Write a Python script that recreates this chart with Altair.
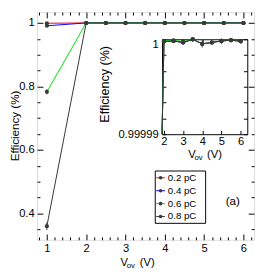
import altair as alt
import pandas as pd

# ---------------- data ----------------
vov = [1, 2, 2.5, 3, 3.5, 4, 4.5, 5, 5.5, 6]
series = ["0.2 pC", "0.4 pC", "0.6 pC", "0.8 pC"]
colors = ["#ff0000", "#0000ff", "#00e000", "#333333"]

eff_02 = [0.999, 0.99999977, 0.99999983, 0.99999966, 0.99999999, 0.99999952, 0.99999966, 0.99999983, 0.99999990, 0.99999980]
eff_04 = [0.991, 0.99999977, 0.99999983, 0.99999966, 0.99999999, 0.99999952, 0.99999966, 0.99999983, 0.99999990, 0.99999980]
eff_06 = [0.783, 0.99999985, 0.99999990, 0.99999975, 0.99999999, 0.99999952, 0.99999966, 0.99999983, 0.99999990, 0.99999980]
eff_08 = [0.360, 0.99999977, 0.99999983, 0.99999966, 0.99999999, 0.99999952, 0.99999966, 0.99999983, 0.99999990, 0.99999980]

err_02 = [0.002, 5e-8, 5e-8, 5e-8, 5e-8, 5e-8, 5e-8, 5e-8, 5e-8, 5e-8]
err_04 = [0.003, 5e-8, 5e-8, 5e-8, 5e-8, 5e-8, 5e-8, 5e-8, 5e-8, 5e-8]
err_06 = [0.008, 5e-8, 5e-8, 5e-8, 5e-8, 5e-8, 5e-8, 5e-8, 5e-8, 5e-8]
err_08 = [0.012, 8e-8, 8e-8, 1e-7, 8e-8, 4e-7, 1.5e-7, 8e-8, 8e-8, 8e-8]

# tick values
main_x_major = [1, 2, 3, 4, 5, 6]
main_x_minor = [0.8, 1.2, 1.4, 1.6, 1.8, 2.2, 2.4, 2.6, 2.8, 3.2, 3.4, 3.6, 3.8,
                4.2, 4.4, 4.6, 4.8, 5.2, 5.4, 5.6, 5.8, 6.2]
main_y_major = [0.4, 0.6, 0.8, 1.0]
main_y_minor = [0.35, 0.45, 0.5, 0.55, 0.65, 0.7, 0.75, 0.85, 0.9, 0.95]
in_x_major = [2, 3, 4, 5, 6]
in_y_ticks = [0.99999, 0.9999916667, 0.9999933333, 0.99999500, 0.9999966667, 0.9999983333, 1.0]

main_x_dom = [0.75, 6.27]
main_y_dom = [0.317, 1.034]
in_x_dom = [1.9, 6.35]
in_y_dom = [0.99999, 1.0]

rows = []
for s, effs, errs in zip(series, [eff_02, eff_04, eff_06, eff_08], [err_02, err_04, err_06, err_08]):
    for x, v, d in zip(vov, effs, errs):
        rows.append({"series": s, "vov": x, "eff": v, "lo": v - d, "hi": v + d})
df = pd.DataFrame(rows)
leg_df = pd.DataFrame({"series": series})
one = pd.DataFrame({"k": [0]})

# ---------------- layout ----------------
W, H = 224, 235
PAD_L, PAD_T, PAD_R, PAD_B = 30, 0, 2, 30
IN_L, IN_R, IN_T, IN_B = 129, 217, 28, 126
MT, mt, IT = 6, 3, 4
FONT = "Liberation Sans"
MARK = "#3a3a3a"

xs_main = alt.Scale(domain=main_x_dom, nice=False, zero=False)
ys_main = alt.Scale(domain=main_y_dom, nice=False, zero=False)
xs_in = alt.Scale(domain=in_x_dom, range=[IN_L, IN_R], clamp=True, nice=False, zero=False)
ys_in = alt.Scale(domain=in_y_dom, range=[IN_B, IN_T], clamp=True, nice=False, zero=False)
col = alt.Color("series:N", scale=alt.Scale(domain=series, range=colors), legend=None)


def tick_axis(orient, values, offset, size, labels=False, **kw):
    return alt.Axis(orient=orient, values=values, offset=offset, tickSize=size,
                    labels=labels, domain=False, grid=False, title=None,
                    labelFlush=False, labelOverlap=False, tickColor="black",
                    tickWidth=1, labelFont=FONT, labelFontSize=11.5,
                    labelColor="black", **kw)


def frame_axis(orient, offset):
    return alt.Axis(orient=orient, offset=offset, ticks=False, labels=False,
                    domain=True, domainColor="black", domainWidth=1, grid=False, title=None)


def guide(xs, ys, xaxis, yaxis):
    return alt.Chart(df).mark_point(opacity=0).encode(
        x=alt.X("vov:Q", scale=xs, axis=xaxis),
        y=alt.Y("eff:Q", scale=ys, axis=yaxis),
    )


def text(t, x, y, size=11.5, angle=0, align="left", baseline="alphabetic"):
    return alt.Chart(one).mark_text(text=t, font=FONT, fontSize=size, angle=angle,
                                    align=align, baseline=baseline, color="black").encode(
        x=alt.value(x), y=alt.value(y))


# ---------------- main panel ----------------
main_lines = alt.Chart(df).mark_line(strokeWidth=1).encode(
    x=alt.X("vov:Q", scale=xs_main,
            axis=tick_axis("bottom", main_x_major, -MT, MT, labels=True, labelPadding=3, format="~g")),
    y=alt.Y("eff:Q", scale=ys_main,
            axis=tick_axis("left", main_y_major, -MT, MT, labels=True, labelPadding=3, format="~g")),
    color=col,
)
main_err = alt.Chart(df).mark_rule(color=MARK, strokeWidth=1).encode(
    x=alt.X("vov:Q", scale=xs_main, axis=None),
    y=alt.Y("lo:Q", scale=ys_main, axis=None),
    y2="hi:Q",
)
main_pts = alt.Chart(df).mark_circle(size=18, color=MARK, opacity=1).encode(
    x=alt.X("vov:Q", scale=xs_main, axis=None),
    y=alt.Y("eff:Q", scale=ys_main, axis=None),
)
main_g1 = guide(xs_main, ys_main, tick_axis("bottom", main_x_minor, -mt, mt),
                tick_axis("left", main_y_minor, -mt, mt))
main_g2 = guide(xs_main, ys_main, tick_axis("top", main_x_major, -MT, MT),
                tick_axis("right", main_y_major, -MT, MT))
main_g3 = guide(xs_main, ys_main, tick_axis("top", main_x_minor, -mt, mt),
                tick_axis("right", main_y_minor, -mt, mt))

# ---------------- inset ----------------
ins = df[df["vov"] >= 2]
in_lines = alt.Chart(df).mark_line(strokeWidth=1).encode(
    x=alt.X("vov:Q", scale=xs_in,
            axis=tick_axis("bottom", in_x_major, -(H - IN_B) - IT, IT, labels=True, labelPadding=2, format="~g")),
    y=alt.Y("eff:Q", scale=ys_in,
            axis=tick_axis("left", in_y_ticks, -IN_L - IT, IT, labels=True, labelPadding=4, format="~g",
                           labelExpr="datum.index == 0 || datum.index == 1 ? datum.label : ''",
                           labelBaseline={"condition": {"test": "datum.value >= 0.9999999", "value": "top"},
                                          "value": "middle"})),
    color=col,
)
in_err = alt.Chart(ins).mark_rule(color=MARK, strokeWidth=1).encode(
    x=alt.X("vov:Q", scale=xs_in, axis=None),
    y=alt.Y("lo:Q", scale=ys_in, axis=None),
    y2="hi:Q",
)
in_pts = alt.Chart(ins).mark_circle(size=18, color=MARK, opacity=1).encode(
    x=alt.X("vov:Q", scale=xs_in, axis=None),
    y=alt.Y("eff:Q", scale=ys_in, axis=None),
)
in_g1 = guide(xs_in, ys_in, tick_axis("top", in_x_major, -IN_T - IT, IT),
              tick_axis("right", in_y_ticks, -(W - IN_R) - IT, IT))
in_f1 = guide(xs_in, ys_in, frame_axis("bottom", -(H - IN_B)), frame_axis("left", -IN_L))
in_f2 = guide(xs_in, ys_in, frame_axis("top", -IN_T), frame_axis("right", -(W - IN_R)))

# ---------------- legend ----------------
leg_y = alt.Y("series:N", scale=alt.Scale(type="point", domain=series, range=[171, 211], padding=0), axis=None)
leg_box = alt.Chart(one).mark_rect(fill="white", stroke="black", strokeWidth=1).encode(
    x=alt.value(122), x2=alt.value(174), y=alt.value(164), y2=alt.value(218))
leg_line = alt.Chart(leg_df).mark_rule(strokeWidth=1).encode(
    x=alt.value(123), x2=alt.value(132), y=leg_y, color=col)
leg_dot = alt.Chart(leg_df).mark_circle(size=14, color=MARK, opacity=1).encode(
    x=alt.value(127.5), y=leg_y)
leg_txt = alt.Chart(leg_df).mark_text(align="left", baseline="middle", font=FONT, fontSize=10,
                                      color="black").encode(
    x=alt.value(135), y=leg_y, text="series:N")

# ---------------- titles ----------------
texts = [
    text("Efficiency (%)", -22.5, 117.5, size=12, angle=270, align="center", baseline="middle"),
    text("Efficiency (%)", 70, 74.5, size=13, angle=270, align="center", baseline="middle"),
    text("V", 86, 262), text("ov", 92.5, 264, size=8), text("(V)", 106, 262),
    text("V", 156, 151), text("ov", 162.5, 153, size=8), text("(V)", 175.5, 151),
    text("(a)", 202, 195, size=12, align="center", baseline="middle"),
]

chart = alt.layer(
    main_lines, main_err, main_pts, main_g1, main_g2, main_g3,
    in_lines, in_err, in_pts, in_g1, in_f1, in_f2,
    leg_box, leg_line, leg_dot, leg_txt, *texts,
).resolve_scale(x="independent", y="independent").resolve_axis(
    x="independent", y="independent"
).properties(width=W, height=H,
             autosize=alt.AutoSizeParams(type="none"),
             padding={"left": PAD_L, "top": PAD_T, "right": PAD_R, "bottom": PAD_B}).configure_view(
    stroke="black", strokeWidth=1
).configure(font=FONT)

chart.save("out.html", embed_options={"renderer": "svg", "actions": False})
